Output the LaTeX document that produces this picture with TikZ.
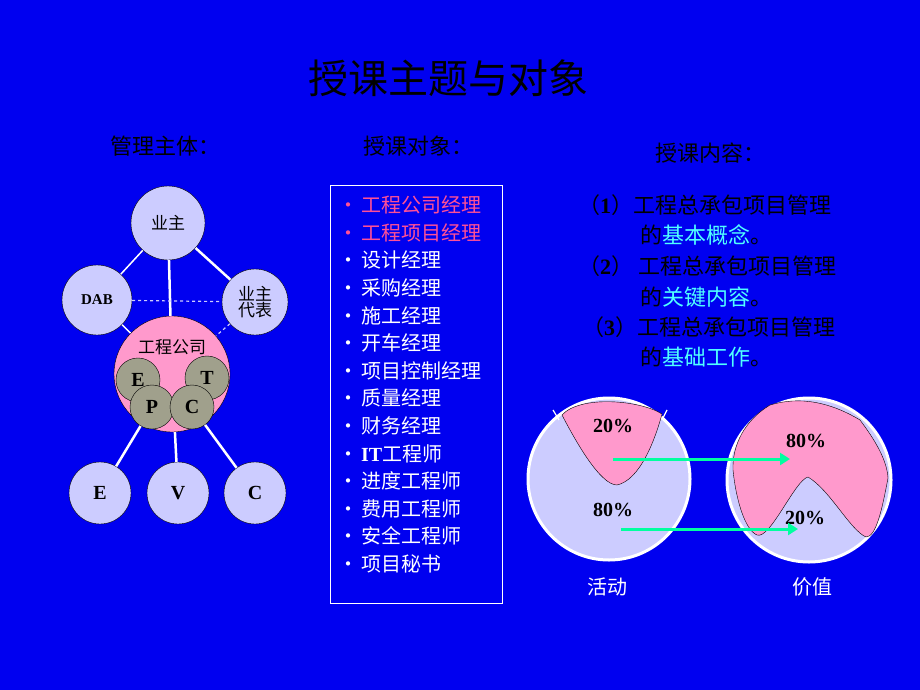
\documentclass[tikz,border=0pt]{standalone}
\usepackage{fontspec}
\setmainfont{Liberation Serif}
\newfontfamily\cjk{Noto Sans CJK SC}
\usetikzlibrary{arrows.meta}
\definecolor{bgblue}{RGB}{0,0,240}
\definecolor{lav}{RGB}{204,204,255}
\definecolor{pinkf}{RGB}{255,153,204}
\definecolor{greyc}{RGB}{160,160,140}
\definecolor{pinkt}{RGB}{255,80,150}
\definecolor{cyant}{RGB}{80,255,255}
\definecolor{arrowg}{RGB}{0,255,160}
\begin{document}
\begin{tikzpicture}[x=1pt,y=1pt,yscale=-1,
  party/.style={circle,draw=black,fill=lav,inner sep=0pt,minimum size=#1},
  part/.style={circle,draw=black,fill=greyc,inner sep=0pt,minimum size=44pt,font=\fontsize{20}{22}\bfseries},
  tie/.style={draw=white,line width=2.5pt},
  thintie/.style={draw=white,line width=1.5pt},
  dtie/.style={draw=lav,line width=1.2pt,dashed},
  item/.style={anchor=west,font=\fontsize{20}{22}\selectfont\cjk,text=white,inner sep=0pt},
  line/.style={anchor=west,font=\fontsize{22}{24}\selectfont\cjk,inner sep=0pt},
  pct/.style={font=\fontsize{20}{22}\bfseries,inner sep=0pt}]
\fill[bgblue] (0,0) rectangle (920,690);
\useasboundingbox (0,0) rectangle (920,690);

% headings
\node (title) at (448,78) {\fontsize{40}{44}\selectfont\cjk 授课主题与对象};
\node (h1) at (165,146) {\fontsize{22}{24}\selectfont\cjk 管理主体：};
\node (h2) at (418,146) {\fontsize{22}{24}\selectfont\cjk 授课对象：};
\node (h3) at (710,153) {\fontsize{22}{24}\selectfont\cjk 授课内容：};

% parties
\node[party=74pt] (owner) at (168,223) {\fontsize{17}{19}\selectfont\cjk 业主};
\node[party=70pt] (dab) at (97,300) {\fontsize{15}{17}\bfseries DAB};
\node[party=66pt,align=center,font=\fontsize{17}{19}\selectfont\cjk] (rep) at (255,302) {业主\\[-3pt]代表};
\node[circle,draw=black,fill=pinkf,minimum size=116pt] (epc) at (172,374) {};
\node[anchor=south] (epclbl) at (172,358) {\fontsize{17}{19}\selectfont\cjk 工程公司};
\node[party=62pt] (ve) at (100,493) {\fontsize{20}{22}\bfseries E};
\node[party=62pt] (vv) at (178,493) {\fontsize{20}{22}\bfseries V};
\node[party=62pt] (vc) at (255,493) {\fontsize{20}{22}\bfseries C};

\draw[thintie] (owner) -- (dab);
\draw[tie] (owner) -- (epc);
\draw[tie] (owner) -- (rep);
\draw[dtie] (dab) -- (rep);
\draw[thintie] (dab) -- (epc);
\draw[dtie] (rep) -- (epc);

\node[part] (pe) at (138,380) {E};
\node[part] (pt) at (207,378) {T};
\node[part] (pp) at (152,407) {P};
\node[part] (pc) at (192,407) {C};

\draw[tie] (pp) -- (ve);
\draw[tie] (epc) -- (vv);
\draw[tie] (pc) -- (vc);

% roles
\draw[white,line width=0.6pt] (330,185) rectangle (502,603);
\foreach \txt [count=\i] in {工程公司经理,工程项目经理,设计经理,采购经理,施工经理,开车经理,项目控制经理,质量经理,财务经理,{\rmfamily\bfseries IT}工程师,进度工程师,费用工程师,安全工程师,项目秘书}
  \node[item] (r\i) at (338,{205+27.6*(\i-1)}) {\ifnum\i<3 \color{pinkt}\fi •\hspace{3pt}\txt};

% content
\node[line] (c1) at (578,205) {（{\rmfamily\bfseries 1}）工程总承包项目管理};
\node[line] (c2) at (640,235) {的\textcolor{cyant}{基本概念}。};
\node[line] (c3) at (578,266) {（{\rmfamily\bfseries 2}） 工程总承包项目管理};
\node[line] (c4) at (640,297) {的\textcolor{cyant}{关键内容}。};
\node[line] (c5) at (582,327) {（{\rmfamily\bfseries 3}）工程总承包项目管理};
\node[line] (c6) at (640,357) {的\textcolor{cyant}{基础工作}。};

% activity pie
\draw[white,line width=3pt,fill=lav] (609,479) circle (81);
\draw[white,line width=1.2pt] (553,410) -- (559,420) (667,410) -- (662,420);
\draw[black,fill=pinkf] (562,415) .. controls (580,395) and (640,400) .. (662,414)
  .. controls (655,440) and (640,480) .. (617,485)
  .. controls (600,485) and (575,440) .. (562,415) -- cycle;
% value pie
\draw[white,line width=3pt,fill=lav] (809,480) circle (82);
\draw[black,fill=pinkf] (733,470) .. controls (732,445) and (745,420) .. (770,405)
  .. controls (800,396) and (830,402) .. (860,420)
  .. controls (875,440) and (887,460) .. (888,478)
  .. controls (882,510) and (876,537) .. (866,537)
  .. controls (850,530) and (830,490) .. (808,477)
  .. controls (795,480) and (770,540) .. (757,535)
  .. controls (745,530) and (736,500) .. (733,470) -- cycle;

\node[pct] (a20) at (613,426) {20\%};
\node[pct] (a80) at (613,510) {80\%};
\node[pct] (b80) at (806,441) {80\%};
\node[pct] (b20) at (805,518) {20\%};
\coordinate (s1) at (613,459); \coordinate (e1) at (790,459);
\coordinate (s2) at (621,529); \coordinate (e2) at (798,529);
\draw[arrowg,line width=3pt,-{Triangle[length=10pt,width=12pt]}] (s1) -- (e1);
\draw[arrowg,line width=3pt,-{Triangle[length=10pt,width=12pt]}] (s2) -- (e2);
\node (act) at (607,587) {\fontsize{20}{22}\selectfont\cjk\color{white} 活动};
\node (val) at (812,587) {\fontsize{20}{22}\selectfont\cjk\color{white} 价值};
\end{tikzpicture}
\end{document}
